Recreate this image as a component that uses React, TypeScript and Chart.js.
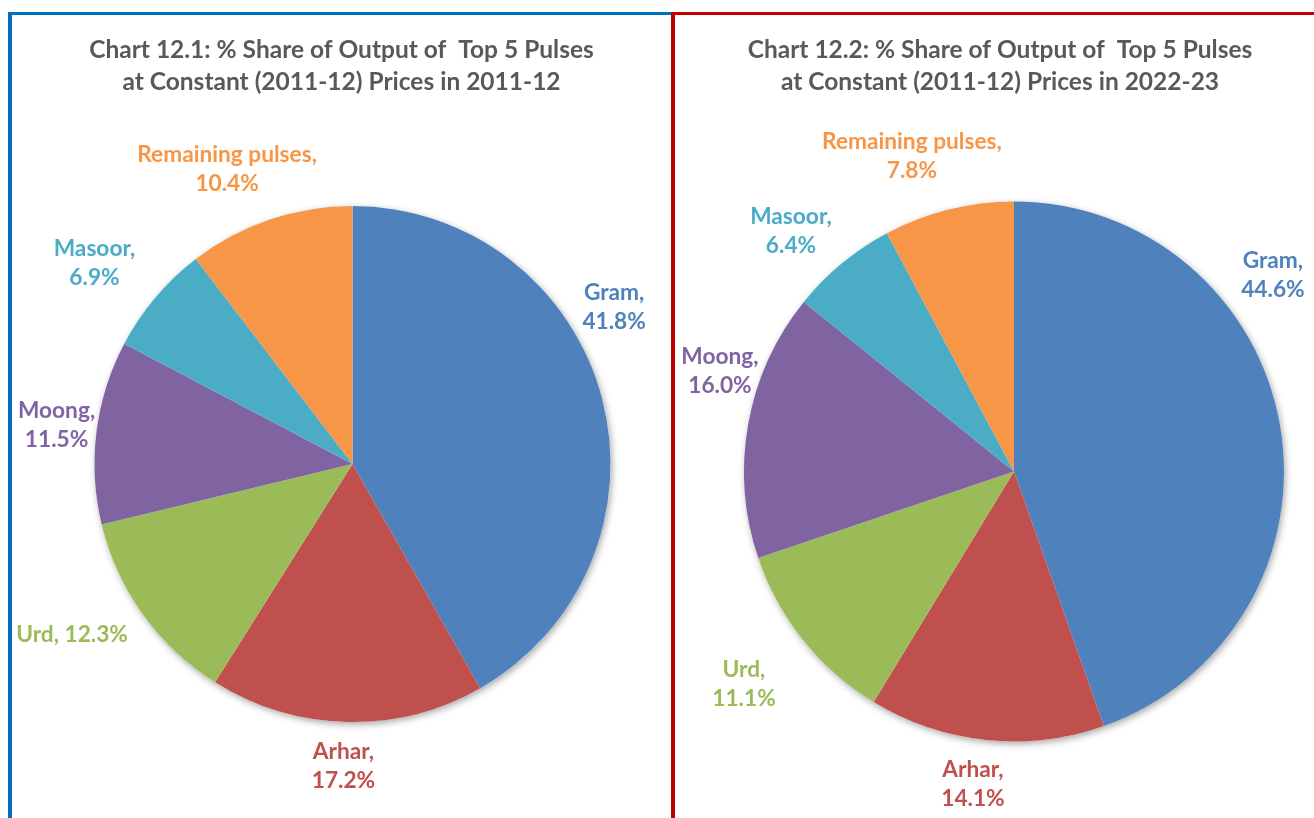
import React, { useEffect, useRef } from "react";
import { Chart, registerables } from "chart.js";

Chart.register(...registerables);

// ---- data ----
const categories = ["Gram", "Arhar", "Urd", "Moong", "Masoor", "Remaining pulses"];
const share2011 = [41.8, 17.2, 12.3, 11.5, 6.9, 10.4];
const share2022 = [44.6, 14.1, 11.1, 16.0, 6.4, 7.8];
const title2011 = [
  "Chart 12.1: % Share of Output of  Top 5 Pulses",
  "at Constant (2011-12) Prices in 2011-12",
];
const title2022 = [
  "Chart 12.2: % Share of Output of  Top 5 Pulses",
  "at Constant (2011-12) Prices in 2022-23",
];

// ---- styles / layout ----
const sliceColors = ["#4F81BD", "#C0504D", "#9BBB59", "#8064A2", "#4BACC6", "#F79646"];
const FONT = "Lato, 'Open Sans', sans-serif";

// label anchor offsets, in units of the pie radius, from the pie centre
const labelPos2011 = [
  [1.014, -0.607],
  [-0.035, 1.172],
  [-1.087, 0.663],
  [-1.147, -0.149],
  [-1.0, -0.777],
  [-0.486, -1.143],
];
const singleLine2011 = [false, false, true, false, false, false];
const labelPos2022 = [
  [0.959, -0.726],
  [-0.152, 1.16],
  [-1.0, 0.789],
  [-1.089, -0.37],
  [-0.826, -0.889],
  [-0.378, -1.168],
];
const singleLine2022 = [false, false, false, false, false, false];

type PanelCfg = {
  values: number[];
  title: string[];
  labelPos: number[][];
  singleLine: boolean[];
  canvas: { left: number; top: number; width: number; height: number };
  padding: { left: number; right: number; top: number; bottom: number };
  titleX: number;
  titleY: number;
};

const panels: PanelCfg[] = [
  {
    values: share2011,
    title: title2011,
    labelPos: labelPos2011,
    singleLine: singleLine2011,
    canvas: { left: 12, top: 15, width: 659, height: 803 },
    padding: { left: 82.5, right: 60.5, top: 191, bottom: 96 },
    titleX: 329.5,
    titleY: 35.5,
  },
  {
    values: share2022,
    title: title2022,
    labelPos: labelPos2022,
    singleLine: singleLine2022,
    canvas: { left: 675, top: 15, width: 639, height: 803 },
    padding: { left: 69, right: 30, top: 186.4, bottom: 76.6 },
    titleX: 325,
    titleY: 35.5,
  },
];

const pieDecor = {
  id: "pieDecor",
  beforeDatasetsDraw(chart: any) {
    const arc = chart.getDatasetMeta(0).data[0];
    if (!arc) return;
    const ctx = chart.ctx;
    ctx.save();
    ctx.shadowColor = "rgba(0,0,0,0.35)";
    ctx.shadowBlur = 7;
    ctx.shadowOffsetX = 1.5;
    ctx.shadowOffsetY = 2.5;
    ctx.fillStyle = "#ffffff";
    ctx.beginPath();
    ctx.arc(arc.x, arc.y, arc.outerRadius, 0, Math.PI * 2);
    ctx.fill();
    ctx.restore();
  },
  afterDraw(chart: any, _args: any, opts: any) {
    const ctx = chart.ctx;
    ctx.save();
    // title
    ctx.fillStyle = "#595959";
    ctx.font = `bold 24.5px ${FONT}`;
    ctx.textAlign = "center";
    ctx.textBaseline = "middle";
    opts.title.forEach((line: string, i: number) => {
      ctx.fillText(line, opts.titleX, opts.titleY + i * 32);
    });
    // labels
    const meta = chart.getDatasetMeta(0);
    const ds = chart.data.datasets[0];
    ctx.font = `bold 22.7px ${FONT}`;
    meta.data.forEach((arc: any, i: number) => {
      const [fx, fy] = opts.labelPos[i];
      const x = arc.x + fx * arc.outerRadius;
      const y = arc.y + fy * arc.outerRadius;
      const name = chart.data.labels[i];
      const val = Number(ds.data[i]).toFixed(1) + "%";
      ctx.fillStyle = sliceColors[i];
      if (opts.singleLine[i]) {
        ctx.fillText(`${name}, ${val}`, x, y);
      } else {
        ctx.fillText(`${name},`, x, y - 14.5);
        ctx.fillText(val, x, y + 14.5);
      }
    });
    ctx.restore();
  },
};

function PieCanvas({ cfg }: { cfg: PanelCfg }) {
  const ref = useRef<HTMLCanvasElement | null>(null);
  useEffect(() => {
    if (!ref.current) return;
    const chart = new Chart(ref.current, {
      type: "pie",
      data: {
        labels: categories,
        datasets: [
          {
            data: cfg.values,
            backgroundColor: sliceColors,
            borderWidth: 0,
          },
        ],
      },
      options: {
        animation: false,
        responsive: false,
        devicePixelRatio: 1,
        rotation: 0,
        layout: { padding: cfg.padding },
        plugins: {
          legend: { display: false },
          tooltip: { enabled: false },
          title: { display: false },
          pieDecor: {
            title: cfg.title,
            titleX: cfg.titleX,
            titleY: cfg.titleY,
            labelPos: cfg.labelPos,
            singleLine: cfg.singleLine,
          },
        } as any,
      },
      plugins: [pieDecor],
    });
    return () => chart.destroy();
  }, [cfg]);
  return (
    <canvas
      ref={ref}
      width={cfg.canvas.width}
      height={cfg.canvas.height}
      style={{
        position: "absolute",
        left: cfg.canvas.left,
        top: cfg.canvas.top,
        width: cfg.canvas.width,
        height: cfg.canvas.height,
      }}
    />
  );
}

export default function App() {
  return (
    <div
      style={{
        position: "fixed",
        left: 0,
        top: 0,
        width: 1314,
        height: 818,
        overflow: "hidden",
        background: "#ffffff",
      }}
    >
      <div
        style={{
          position: "absolute",
          left: 8,
          top: 12,
          width: 663,
          height: 900,
          boxSizing: "border-box",
          borderTop: "3px solid #0070C0",
          borderLeft: "4px solid #0070C0",
        }}
      />
      <div
        style={{
          position: "absolute",
          left: 671,
          top: 12,
          width: 700,
          height: 900,
          boxSizing: "border-box",
          borderTop: "3px solid #C00000",
          borderLeft: "4px solid #C00000",
        }}
      />
      {panels.map((p, i) => (
        <PieCanvas key={i} cfg={p} />
      ))}
    </div>
  );
}
